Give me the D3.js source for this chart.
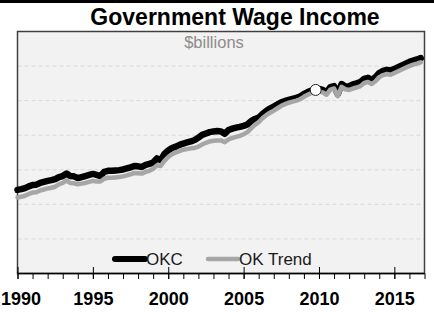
<!DOCTYPE html>
<html><head><meta charset="utf-8">
<script src="https://cdn.jsdelivr.net/npm/d3@7"></script>
<style>
html,body{margin:0;padding:0;background:#fff;}
svg{display:block;font-family:"Liberation Sans",Arial,sans-serif;}
</style></head>
<body>
<svg id="chart" width="434" height="312"></svg>
<script>
// ---- data (quarterly, $billions) ----
const startYear = 1990;
const okc = [2.42,2.44,2.47,2.52,2.56,2.57,2.62,2.65,2.68,2.70,2.73,2.79,
2.82,2.89,2.82,2.81,2.76,2.79,2.82,2.85,2.88,2.85,2.82,2.94,
2.97,2.97,2.98,2.99,3.01,3.04,3.07,3.11,3.10,3.08,3.14,3.17,
3.21,3.33,3.28,3.46,3.56,3.63,3.67,3.72,3.76,3.79,3.82,3.86,
3.93,4.01,4.05,4.09,4.11,4.12,4.11,4.04,4.15,4.19,4.22,4.24,
4.27,4.31,4.41,4.47,4.51,4.61,4.70,4.77,4.83,4.89,4.95,4.99,
5.02,5.05,5.08,5.12,5.19,5.25,5.29,5.31,5.34,5.31,5.24,5.39,
5.42,5.19,5.48,5.41,5.42,5.47,5.50,5.54,5.63,5.66,5.60,5.68,
5.80,5.86,5.89,5.87,5.92,5.97,6.02,6.07,6.12,6.16,6.19,6.23];
const okTrend = [2.20,2.22,2.25,2.30,2.34,2.35,2.40,2.43,2.46,2.48,2.51,2.58,
2.62,2.69,2.62,2.61,2.58,2.60,2.62,2.65,2.68,2.66,2.66,2.74,
2.77,2.77,2.78,2.79,2.81,2.84,2.87,2.91,2.90,2.89,2.94,2.97,
3.03,3.13,3.11,3.26,3.37,3.45,3.50,3.54,3.58,3.60,3.62,3.63,
3.67,3.73,3.78,3.82,3.84,3.85,3.85,3.80,3.88,3.92,3.95,3.98,
4.03,4.09,4.20,4.30,4.38,4.49,4.58,4.65,4.71,4.78,4.85,4.90,
4.94,4.97,5.00,5.04,5.11,5.17,5.22,5.24,5.27,5.24,5.17,5.32,
5.35,5.13,5.40,5.33,5.31,5.35,5.38,5.42,5.51,5.54,5.48,5.56,
5.68,5.74,5.77,5.75,5.80,5.85,5.90,5.95,6.00,6.04,6.07,6.11];
const marker = {year: 2009.78, value: 5.31};
const xDomain = [1990, 2017];
const yDomain = [0, 7];
const yGrid = [1,2,3,4,5,6];
const majorTicks = [1990,1995,2000,2005,2010,2015];
const minorTicks = d3.range(1990, 2018, 1);
const seriesNames = ["OKC", "OK Trend"];
const title = "Government Wage Income";
const subtitle = "$billions";

// ---- drawing ----
const svg = d3.select("#chart");
const L = 17.5, R = 424.5, T = 31.5, B = 273.5;
const x = d3.scaleLinear().domain(xDomain).range([L, R]);
const y = d3.scaleLinear().domain(yDomain).range([B, T]);

svg.append("rect").attr("x",0).attr("y",0).attr("width",434).attr("height",3).attr("fill","#000");

svg.append("rect").attr("x",L).attr("y",T).attr("width",R-L).attr("height",B-T)
  .attr("fill","#f2f2f2");

svg.append("g").selectAll("line").data(yGrid).join("line")
  .attr("x1",L).attr("x2",R).attr("y1",d=>y(d)).attr("y2",d=>y(d))
  .attr("stroke","#d9d9d9").attr("stroke-width",1).attr("stroke-dasharray","4,3");

svg.append("rect").attr("x",L).attr("y",T).attr("width",R-L).attr("height",B-T)
  .attr("fill","none").attr("stroke","#404040").attr("stroke-width",1.5);

svg.append("text").attr("x",235).attr("y",25).attr("text-anchor","middle")
  .attr("font-size",23).attr("font-weight","bold").attr("fill","#000").text(title);
svg.append("text").attr("x",214).attr("y",48).attr("text-anchor","middle")
  .attr("font-size",16.5).attr("fill","#8c8c8c").text(subtitle);

const t = i => startYear + i/4;
const line = d3.line().x((d,i)=>x(t(i))).y(d=>y(d)).curve(d3.curveLinear);

svg.append("path").datum(okc).attr("d",line).attr("fill","none")
  .attr("stroke","#000").attr("stroke-width",6.5).attr("stroke-linejoin","round").attr("stroke-linecap","round");
svg.append("path").datum(okTrend).attr("d",line).attr("fill","none")
  .attr("stroke","#a6a6a6").attr("stroke-width",4.5).attr("stroke-linejoin","round").attr("stroke-linecap","round");

svg.append("circle").attr("cx",x(marker.year)).attr("cy",y(marker.value)).attr("r",5.5)
  .attr("fill","#fff").attr("stroke","#222").attr("stroke-width",1);

// axis
const ax = svg.append("g").attr("transform",`translate(0,${B})`);
ax.call(d3.axisBottom(x).tickValues(minorTicks).tickSize(5.5).tickFormat(""))
  .call(g=>g.select(".domain").remove());
ax.selectAll("line").attr("stroke","#000").attr("stroke-width",1);
const ax2 = svg.append("g").attr("transform",`translate(0,${B})`);
ax2.call(d3.axisBottom(x).tickValues(majorTicks).tickSize(5.5).tickPadding(13).tickFormat(d3.format("d")))
  .call(g=>g.select(".domain").remove());
ax2.selectAll("line").attr("y1",-6.5).attr("stroke","#000").attr("stroke-width",1);
ax2.selectAll("text").attr("font-size",18).attr("font-weight","bold").attr("fill","#000")
  .attr("font-family","Liberation Sans, Arial, sans-serif");
// keep the first label inside the picture
ax2.selectAll("text").filter(d=>d===1990).attr("text-anchor","start").attr("x",-x(1990)+0.5);
svg.append("line").attr("x1",L).attr("x2",R).attr("y1",B).attr("y2",B).attr("stroke","#000").attr("stroke-width",1.5);

// legend
const lg = svg.append("g");
lg.append("line").attr("x1",115).attr("x2",145).attr("y1",259).attr("y2",259)
  .attr("stroke","#000").attr("stroke-width",6).attr("stroke-linecap","round");
lg.append("text").attr("x",146).attr("y",265).attr("font-size",17).attr("fill","#1a1a1a").text(seriesNames[0]);
lg.append("line").attr("x1",208).attr("x2",238).attr("y1",259).attr("y2",259)
  .attr("stroke","#a6a6a6").attr("stroke-width",4.5).attr("stroke-linecap","round");
lg.append("text").attr("x",239).attr("y",265).attr("font-size",17).attr("fill","#1a1a1a").text(seriesNames[1]);
</script>
</body></html>
